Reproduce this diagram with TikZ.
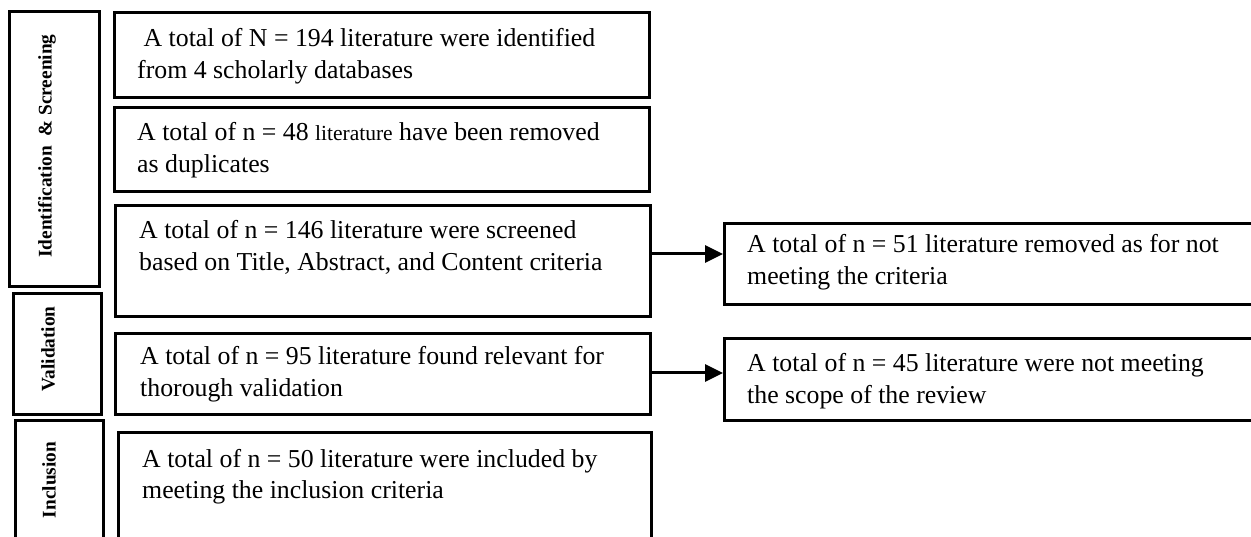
\documentclass[tikz,border=0pt]{standalone}
\usepackage{fontspec}
\setmainfont{Liberation Serif}
\usetikzlibrary{arrows.meta}
\newcommand\twoline[2]{\begin{tabular}[t]{@{}l@{}}#1\\#2\end{tabular}}
\begin{document}
\begin{tikzpicture}[x=1pt,y=-1pt,
  box/.style={draw=black, line width=3pt, rectangle, inner sep=0pt, anchor=north west},
  txt/.style={inner sep=0pt, anchor=base west, font=\fontsize{25.8}{32}\selectfont},
  lab/.style={inner sep=0pt, rotate=90, font=\fontsize{19.3}{23}\selectfont\bfseries},
  arr/.style={line width=3pt, -{Triangle[length=18pt,width=17pt]}}]
\clip (0,0) rectangle (1251,537);
\fill[white] (0,0) rectangle (1251,537);
% left stage boxes
\node[box, minimum width=90pt, minimum height=275pt] (s1) at (8,10) {};
\node[box, minimum width=88pt, minimum height=121pt] (s2) at (12,292) {};
\node[box, minimum width=88pt, minimum height=150pt] (s3) at (14,419) {};
\node[lab] (l1) at (47,146) {Identification\ \ \& Screening};
\node[lab] (l2) at (48,349) {Validation};
\node[lab] (l3) at (49,480) {Inclusion};
% main boxes
\node[box, minimum width=535pt, minimum height=85pt] (b1) at (113,11) {};
\node[box, minimum width=535pt, minimum height=84pt] (b2) at (113,106) {};
\node[box, minimum width=535pt, minimum height=111pt] (b3) at (114,204) {};
\node[box, minimum width=535pt, minimum height=81pt] (b4) at (114,332) {};
\node[box, minimum width=533pt, minimum height=150pt] (b5) at (117,431) {};
% right boxes
\node[box, minimum width=560pt, minimum height=81pt] (r1) at (723,222) {};
\node[box, minimum width=560pt, minimum height=82pt] (r2) at (723,337) {};
% texts
\node[txt] (t1) at (137,47) {\twoline{\ A total of N = 194 literature were identified}{from 4 scholarly databases}};
\node[txt] (t2) at (137,141) {\twoline{A total of n = 48 {\fontsize{21.5}{32}\selectfont literature} have been removed}{as duplicates}};
\node[txt] (t3) at (139,239) {\twoline{A total of n = 146 literature were screened}{based on Title, Abstract, and Content criteria}};
\node[txt] (t4) at (140,365) {\twoline{A total of n = 95 literature found relevant for}{thorough validation}};
\node[txt] (t5) at (142,467) {\twoline{A total of n = 50 literature were included by}{meeting the inclusion criteria}};
\node[txt] (t6) at (747,253) {\twoline{A total of n = 51 literature removed as for not}{meeting the criteria}};
\node[txt] (t7) at (747,372) {\twoline{A total of n = 45 literature were not meeting}{the scope of the review}};
% arrows
\draw[arr] (b3.east |- 0,254) -- (r1.west |- 0,254);
\draw[arr] (b4.east |- 0,373) -- (r2.west |- 0,373);
\end{tikzpicture}
\end{document}
